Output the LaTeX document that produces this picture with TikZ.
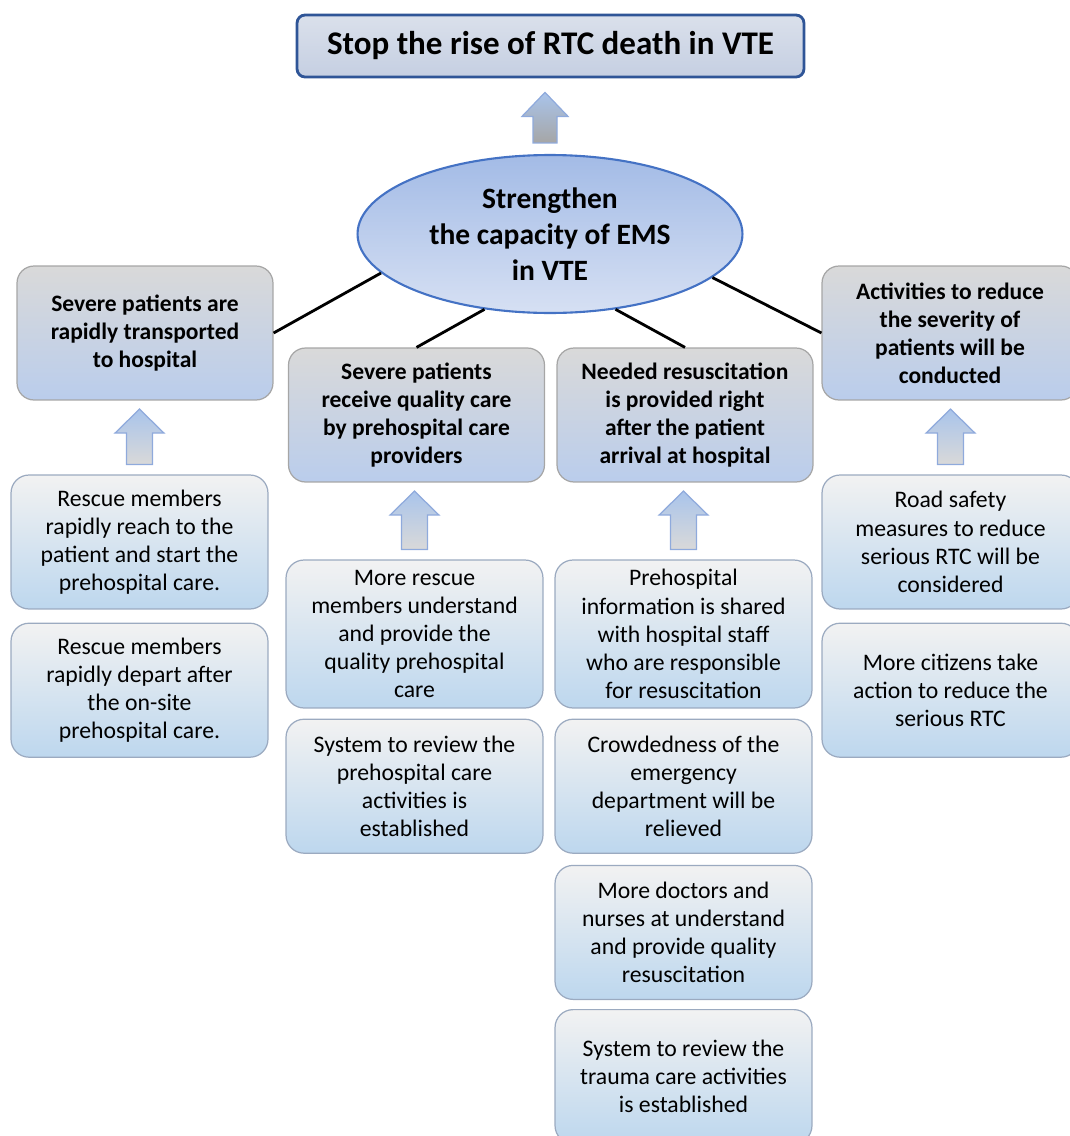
\documentclass[tikz,border=0pt]{standalone}
\usepackage{fontspec}
\setmainfont{Carlito}
\usetikzlibrary{positioning,calc,shapes.geometric}
\definecolor{goalline}{HTML}{2F5597}
\definecolor{goaltop}{HTML}{DAE0EB}
\definecolor{goalbot}{HTML}{C5CFE2}
\definecolor{emsline}{HTML}{4472C4}
\definecolor{emstop}{HTML}{A3BBE6}
\definecolor{emsbot}{HTML}{D6E0F3}
\definecolor{outline}{HTML}{A6A6A6}
\definecolor{outtop}{HTML}{D9D9D9}
\definecolor{outbot}{HTML}{BACDEC}
\definecolor{actline}{HTML}{9BAAC0}
\definecolor{acttop}{HTML}{F2F2F2}
\definecolor{actbot}{HTML}{BDD7EE}
\definecolor{arrline}{HTML}{8FAADC}
\definecolor{arrtop}{HTML}{A9C4EB}
\definecolor{arrbot}{HTML}{D9D9D9}

\begin{document}
\begin{tikzpicture}[x=0.02cm, y=-0.02cm,
    goalbox/.style={draw=goalline, line width=1.6pt, rounded corners=0.16cm,
        top color=goaltop, bottom color=goalbot,
        minimum width=10.14cm, minimum height=1.24cm,
        font=\fontsize{18.8}{22}\selectfont\bfseries},
    emsnode/.style={ellipse, draw=emsline, line width=1.2pt,
        top color=emstop, bottom color=emsbot, inner sep=0pt,
        minimum width=7.7cm, minimum height=3.16cm, align=center,
        font=\fontsize{16.8}{20.5}\selectfont\bfseries},
    outbox/.style={draw=outline, line width=0.7pt, rounded corners=0.34cm,
        top color=outtop, bottom color=outbot,
        minimum width=5.12cm, minimum height=2.68cm, align=center,
        font=\fontsize{13.4}{16}\selectfont\bfseries},
    actbox/.style={draw=actline, line width=0.7pt, rounded corners=0.36cm,
        top color=acttop, bottom color=actbot,
        minimum width=5.14cm, minimum height=2.68cm, align=center,
        font=\fontsize{13.5}{16}\selectfont},
    link/.style={line width=1.6pt},
    uparrow/.style={draw=arrline, line width=0.7pt, top color=arrtop, bottom color=arrbot}
]
    \useasboundingbox (0,0) rectangle (1070,1136);

    % Goal and main objective
    \node [goalbox] (Goal) at (550.5,46) {Stop the rise of RTC death in VTE};
    \node [emsnode] (EMS) at (550,234) {Strengthen\\the capacity of EMS\\in VTE};

    % Outcomes
    \node [outbox] (Outcome1) at (145,333) {Severe patients are\\rapidly transported\\to hospital};
    \node [outbox] (Outcome2) at (416.5,415) {Severe patients\\receive quality care\\by prehospital care\\providers};
    \node [outbox] (Outcome3) at (685,415) {Needed resuscitation\\is provided right\\after the patient\\arrival at hospital};
    \node [outbox] (Outcome4) at (950,333) {Activities to reduce\\the severity of\\patients will be\\conducted};

    % Actions
    \node [actbox] (Action1) at (139.5,542) {Rescue members\\rapidly reach to the\\patient and start the\\prehospital care.};
    \node [actbox, below=0.26cm of Action1] (Action2) {Rescue members\\rapidly depart after\\the on-site\\prehospital care.};
    \node [actbox, minimum height=2.96cm] (Action3) at (414.5,634) {More rescue\\members understand\\and provide the\\quality prehospital\\care};
    \node [actbox, below=0.2cm of Action3] (Action4) {System to review the\\prehospital care\\activities is\\established};
    \node [actbox, minimum height=2.96cm] (Action5) at (683.5,634) {Prehospital\\information is shared\\with hospital staff\\who are responsible\\for resuscitation};
    \node [actbox, below=0.2cm of Action5] (Action6) {Crowdedness of the\\emergency\\department will be\\relieved};
    \node [actbox, below=0.22cm of Action6] (Action7) {More doctors and\\nurses at understand\\and provide quality\\resuscitation};
    \node [actbox, below=0.18cm of Action7] (Action8) {System to review the\\trauma care activities\\is established};
    \node [actbox] (Action9) at (950.5,542) {Road safety\\measures to reduce\\serious RTC will be\\considered};
    \node [actbox, below=0.26cm of Action9] (Action10) {More citizens take\\action to reduce the\\serious RTC};

    % Links
    \draw [link] (EMS.193.5) -- (Outcome1.east);
    \draw [link] (EMS.229) -- (Outcome2.north);
    \draw [link] (EMS.311.5) -- (Outcome3.north);
    \draw [link] (EMS.345) -- (Outcome4.west);

    % Up arrows
    \draw [uparrow, bottom color=black!35] let \p1=($(EMS.north)+(-0.1cm,0.22cm)$), \p2=($(Goal.south)+(0,-0.28cm)$) in
        (\x1-0.24cm,\y1) -- (\x1-0.24cm,\y2-0.48cm) -- (\x1-0.46cm,\y2-0.48cm) -- (\x1,\y2)
        -- (\x1+0.46cm,\y2-0.48cm) -- (\x1+0.24cm,\y2-0.48cm) -- (\x1+0.24cm,\y1) -- cycle;
    \foreach \lo/\hi in {Action1/Outcome1, Action3/Outcome2, Action5/Outcome3, Action9/Outcome4}
        \draw [uparrow] let \p1=($(\lo.north)+(0,0.2cm)$), \p2=($(\hi.south)+(0,-0.17cm)$) in
            (\x1-0.26cm,\y1) -- (\x1-0.26cm,\y2-0.48cm) -- (\x1-0.49cm,\y2-0.48cm) -- (\x1,\y2)
            -- (\x1+0.49cm,\y2-0.48cm) -- (\x1+0.26cm,\y2-0.48cm) -- (\x1+0.26cm,\y1) -- cycle;

\end{tikzpicture}
\end{document}
